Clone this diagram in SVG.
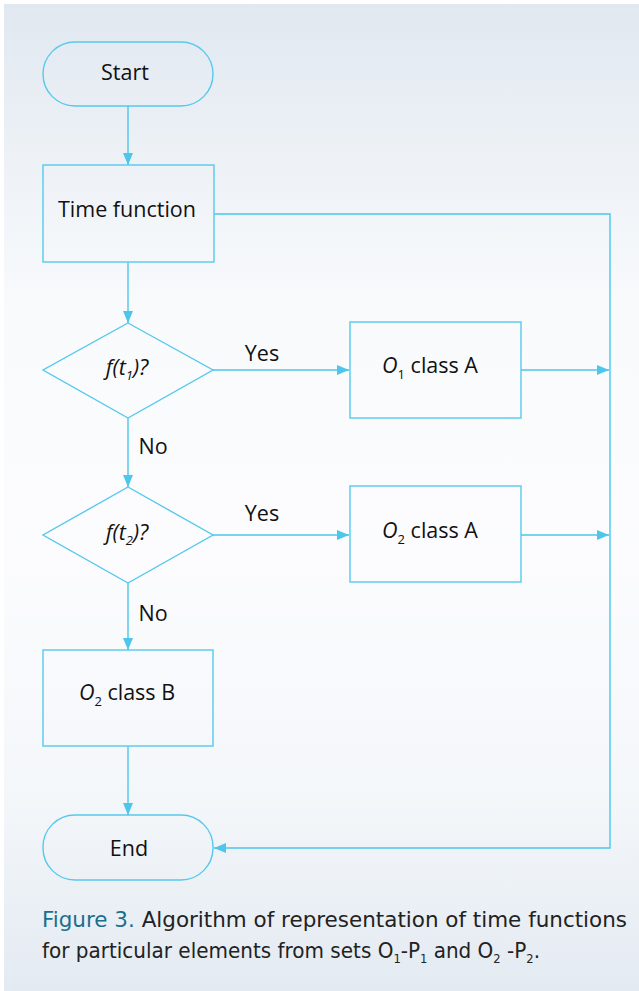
<svg xmlns="http://www.w3.org/2000/svg" width="639" height="991" viewBox="0 0 639 991">
<defs>
<linearGradient id="bg" x1="0" y1="0" x2="0" y2="1">
<stop offset="0" stop-color="#e1e8f0"/>
<stop offset="0.3" stop-color="#f8fafc"/>
<stop offset="0.55" stop-color="#fcfcfe"/>
<stop offset="0.8" stop-color="#f4f7fa"/>
<stop offset="1" stop-color="#e3eaf1"/>
</linearGradient>
<marker id="ah" markerWidth="12" markerHeight="10" refX="12" refY="5" orient="auto" markerUnits="userSpaceOnUse">
<path d="M0,0 L12,5 L0,10 Z" fill="#4cc6ea"/>
</marker>
<style>
.s{fill:none;stroke:#56c9ec;stroke-width:1.4}
.c{fill:none;stroke:#4cc6ea;stroke-width:1.4}
.t{font-family:"Open Sans","Noto Sans",sans-serif;font-size:21.5px;fill:#111}
.i{font-style:italic}
.cap{font-family:"DejaVu Sans","Noto Sans",sans-serif;font-size:20.8px;fill:#222}
</style>
</defs>
<rect x="0" y="0" width="639" height="991" fill="#ffffff"/>
<rect x="4" y="4" width="635" height="987" fill="url(#bg)"/>
<g id="connectors">
<line class="c" x1="128" y1="106" x2="128" y2="165" marker-end="url(#ah)"/>
<line class="c" x1="128" y1="262" x2="128" y2="323" marker-end="url(#ah)"/>
<polyline class="c" points="214,214 610,214 610,848 214,848" marker-end="url(#ah)"/>
<line class="c" x1="213" y1="370" x2="349" y2="370" marker-end="url(#ah)"/>
<line class="c" x1="521" y1="370" x2="609" y2="370" marker-end="url(#ah)"/>
<line class="c" x1="128" y1="418" x2="128" y2="487" marker-end="url(#ah)"/>
<line class="c" x1="213" y1="535" x2="349" y2="535" marker-end="url(#ah)"/>
<line class="c" x1="521" y1="535" x2="609" y2="535" marker-end="url(#ah)"/>
<line class="c" x1="128" y1="583" x2="128" y2="650" marker-end="url(#ah)"/>
<line class="c" x1="128" y1="746" x2="128" y2="815" marker-end="url(#ah)"/>
<text class="t" x="262" y="361" text-anchor="middle">Yes</text>
<text class="t" x="262" y="521" text-anchor="middle">Yes</text>
<text class="t" x="153" y="454" text-anchor="middle">No</text>
<text class="t" x="153" y="621" text-anchor="middle">No</text>
</g>
<g id="start">
<rect class="s" x="43" y="42" width="170" height="64" rx="32" fill="none"/>
<text class="t" x="125" y="80" text-anchor="middle">Start</text>
</g>
<g id="time-function">
<rect class="s" x="43" y="165" width="171" height="97"/>
<text class="t" x="127" y="217" text-anchor="middle">Time function</text>
</g>
<g id="decision1">
<polygon class="s" points="128,323 213,370 128,418 43,370"/>
<text class="t" x="127" y="375" text-anchor="middle"><tspan class="i">f(t</tspan><tspan class="i" font-size="13" dy="5">1</tspan><tspan class="i" dy="-5">)?</tspan></text>
</g>
<g id="o1-class-a">
<rect class="s" x="350" y="322" width="171" height="96"/>
<text class="t" x="430" y="373" text-anchor="middle"><tspan class="i">O</tspan><tspan font-size="13" dy="6">1</tspan><tspan dy="-6"> class A</tspan></text>
</g>
<g id="decision2">
<polygon class="s" points="128,487 213,535 128,583 43,535"/>
<text class="t" x="127" y="540" text-anchor="middle"><tspan class="i">f(t</tspan><tspan class="i" font-size="13" dy="5">2</tspan><tspan class="i" dy="-5">)?</tspan></text>
</g>
<g id="o2-class-a">
<rect class="s" x="350" y="486" width="171" height="96"/>
<text class="t" x="430" y="538" text-anchor="middle"><tspan class="i">O</tspan><tspan font-size="13" dy="6">2</tspan><tspan dy="-6"> class A</tspan></text>
</g>
<g id="o2-class-b">
<rect class="s" x="43" y="650" width="170" height="96"/>
<text class="t" x="127" y="700" text-anchor="middle"><tspan class="i">O</tspan><tspan font-size="13" dy="6">2</tspan><tspan dy="-6"> class B</tspan></text>
</g>
<g id="end">
<rect class="s" x="43" y="815" width="170" height="65" rx="32" fill="none"/>
<text class="t" x="129" y="856" text-anchor="middle">End</text>
</g>
<g id="caption">
<text class="cap" x="42" y="927" textLength="585" lengthAdjust="spacingAndGlyphs"><tspan fill="#1a6f8c">Figure 3.</tspan> Algorithm of representation of time functions</text>
<text class="cap" x="42" y="958" textLength="498" lengthAdjust="spacingAndGlyphs">for particular elements from sets O<tspan font-size="12" dy="5">1</tspan><tspan dy="-5">-P</tspan><tspan font-size="12" dy="5">1</tspan><tspan dy="-5"> and O</tspan><tspan font-size="12" dy="5">2</tspan><tspan dy="-5"> -P</tspan><tspan font-size="12" dy="5">2</tspan><tspan dy="-5">.</tspan></text>
</g>
</svg>
